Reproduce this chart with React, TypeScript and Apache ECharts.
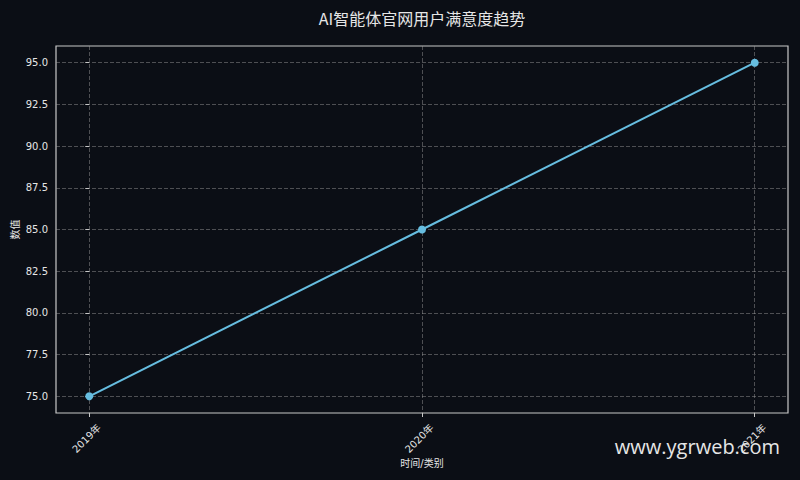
import { useEffect, useRef } from 'react'
import * as echarts from 'echarts'

const categories = ['2019年', '2020年', '2021年']
const values = [75.0, 85.0, 95.0]
const yTicks = [75.0, 77.5, 80.0, 82.5, 85.0, 87.5, 90.0, 92.5, 95.0]
const xTicks = [0, 1, 2]

const THEME = {
  bg: '#0b0e15',
  text: '#e6e6e6',
  axis: '#c8c8c8',
  grid: 'rgba(160,160,160,0.45)',
  line: '#66bde0',
}

const FONT = '"DejaVu Sans", "Noto Sans CJK SC", sans-serif'

export default function App() {
  const chartRef = useRef<HTMLDivElement | null>(null)

  useEffect(() => {
    if (!chartRef.current) return
    const chart = echarts.init(chartRef.current, undefined, { renderer: 'svg' })

    chart.setOption({
      animation: false,
      backgroundColor: THEME.bg,
      textStyle: { fontFamily: FONT },
      grid: {
        left: 56, right: 12, top: 46, bottom: 67,
        outerBoundsMode: 'none',
        containLabel: false,
        show: true, borderColor: THEME.axis, borderWidth: 1.2,
      },
      xAxis: {
        type: 'value',
        min: -0.1,
        max: 2.1,
        name: '时间/类别',
        nameLocation: 'middle',
        nameGap: 44,
        nameMoveOverlap: false,
        nameTextStyle: { color: THEME.text, fontSize: 10, lineHeight: 12 },
        axisLine: { show: false },
        axisTick: { show: true, customValues: xTicks, length: 4, lineStyle: { color: THEME.axis } },
        axisLabel: {
          customValues: xTicks,
          color: THEME.text,
          fontSize: 10,
          rotate: 45,
          margin: 3,
          verticalAlign: 'middle',
          lineHeight: 28,
          // leading blank line pushes the rotated label down-right, like matplotlib's centred tick text
          formatter: (v: number) => '\n' + (categories[Math.round(v)] ?? ''),
        },
        splitLine: { show: true, lineStyle: { color: THEME.grid, type: 'dashed', width: 1 } },
      },
      yAxis: {
        type: 'value',
        min: 74,
        max: 96,
        name: '数值',
        nameLocation: 'middle',
        nameGap: 36,
        nameMoveOverlap: false,
        nameTextStyle: { color: THEME.text, fontSize: 10 },
        axisLine: { show: false },
        axisTick: { show: true, customValues: yTicks, length: 4, lineStyle: { color: THEME.axis } },
        axisLabel: {
          customValues: yTicks,
          color: THEME.text,
          fontSize: 10,
          margin: 8,
          formatter: (v: number) => v.toFixed(1),
        },
        splitLine: { show: true, lineStyle: { color: THEME.grid, type: 'dashed', width: 1 } },
      },
      series: [{
        type: 'line',
        data: values.map((v, i) => [i, v]),
        symbol: 'circle',
        symbolSize: 8,
        lineStyle: { color: THEME.line, width: 2 },
        itemStyle: { color: THEME.line },
      }],
      graphic: [
        {
          type: 'text',
          x: 422,
          y: 10,
          style: {
            text: 'AI智能体官网用户满意度趋势',
            fill: THEME.text,
            font: '16px "Noto Sans CJK SC", "DejaVu Sans", sans-serif',
            textAlign: 'center',
          },
        },
        {
          type: 'text',
          right: 20,
          top: 436,
          style: {
            text: 'www.ygrweb.com',
            fill: THEME.text,
            font: '20px "Open Sans", "DejaVu Sans", sans-serif',
          },
        },
      ],
    })

    return () => chart.dispose()
  }, [])

  return <div ref={chartRef} style={{ width: 800, height: 480, position: 'fixed', left: 0, top: 0 }} />
}
